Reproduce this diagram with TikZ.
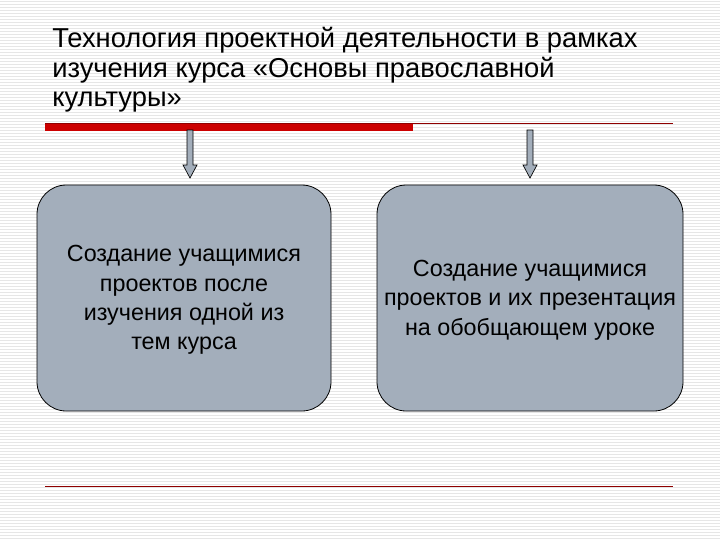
\documentclass[tikz,border=0pt]{standalone}
\usepackage{fontspec}
\setmainfont{Liberation Sans}
\usetikzlibrary{shapes.arrows}
\definecolor{boxfill}{HTML}{A3AEBB}
\definecolor{stripe}{HTML}{E6E6E6}
\definecolor{redline}{HTML}{CC0000}
\begin{document}
\begin{tikzpicture}[x=0.75pt,y=-0.75pt,
  box/.style={draw=black,fill=boxfill,rounded corners=22pt,line width=0.6pt},
  boxtext/.style={font=\fontsize{17.5}{22}\selectfont,align=center},
  downarrow/.style={draw=black,fill=boxfill,line width=0.5pt}]
\useasboundingbox (0,0) rectangle (720,540);
\fill[white] (0,0) rectangle (720,540);
\foreach \y in {1,4,...,540} \draw[stripe,line width=0.5pt] (0,\y) -- (720,\y);
\node[anchor=north west,align=left,font=\fontsize{20.5}{22.2}\selectfont,inner sep=0pt] (title) at (52,27)
 {Технология проектной деятельности в рамках\\изучения курса «Основы православной\\культуры»};
\draw[redline!70!black,line width=0.6pt] (45,123) -- (673,123);
\fill[redline] (45,124) rectangle (413,131);
\draw[redline!70!black,line width=0.6pt] (45,486) -- (673,486);
% arrows
\draw[downarrow] (187,130) -- (193,130) -- (193,165) -- (197,165) -- (190,178) -- (183,165) -- (187,165) -- cycle;
\draw[downarrow] (527,130) -- (533,130) -- (533,165) -- (537,165) -- (530,178) -- (523,165) -- (527,165) -- cycle;
\draw[box] (37,185) rectangle (331,411);
\draw[box] (377,185) rectangle (683,411);
\node[boxtext] (l) at (184,300) {Создание учащимися\\проектов после\\изучения одной из\\тем курса};
\node[boxtext] (r) at (530,300) {Создание учащимися\\проектов и их презентация\\на обобщающем уроке};
\end{tikzpicture}
\end{document}
